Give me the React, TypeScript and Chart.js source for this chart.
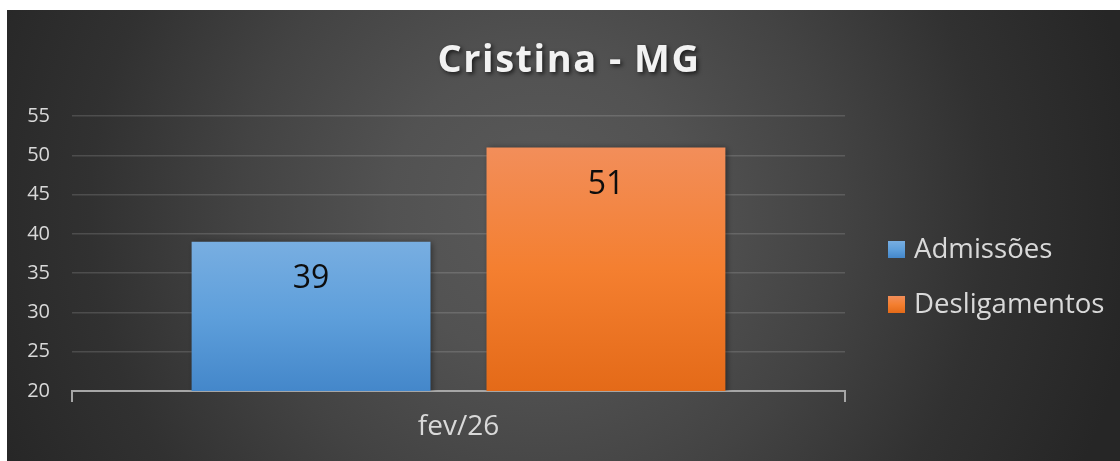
import React, { useEffect, useRef } from "react";
import { Chart, registerables } from "chart.js";

Chart.register(...registerables);

const W = 1120;
const H = 461;
const FONT = "'Open Sans', 'Noto Sans', sans-serif";

const TITLE = "Cristina - MG";
const categories = ["fev/26"];
const seriesNames = ["Admissões", "Desligamentos"];
const admissoes = [39];
const desligamentos = [51];
const yMin = 20;
const yMax = 55;
const yStep = 5;

const seriesTop = ["#78AEE1", "#F28E5A"];
const seriesMid = ["#5E9FDB", "#F47F30"];
const seriesBottom = ["#4487CA", "#E46A18"];

function addStops(g: CanvasGradient, i: number) {
  g.addColorStop(0, seriesTop[i]);
  g.addColorStop(0.5, seriesMid[i]);
  g.addColorStop(1, seriesBottom[i]);
  return g;
}

function barGradient(c: any, i: number) {
  const chart = c.chart;
  const area = chart.chartArea;
  if (!area || !chart.scales || !chart.scales.y) return seriesBottom[i];
  const v = c.raw as number;
  const top = chart.scales.y.getPixelForValue(v);
  const bottom = chart.scales.y.getPixelForValue(yMin);
  const g = chart.ctx.createLinearGradient(0, top, 0, bottom);
  return addStops(g, i);
}

const backgroundPlugin = {
  id: "bgPlugin",
  beforeDraw(chart: any) {
    const ctx = chart.ctx;
    ctx.save();
    ctx.fillStyle = "#ffffff";
    ctx.fillRect(0, 0, W, H);
    const g = ctx.createRadialGradient(540, 210, 0, 540, 210, 600);
    g.addColorStop(0, "#5a5a5a");
    g.addColorStop(0.25, "#525252");
    g.addColorStop(0.5, "#434343");
    g.addColorStop(0.75, "#313131");
    g.addColorStop(1, "#262626");
    ctx.fillStyle = g;
    ctx.fillRect(7, 10, W - 7, H - 10);
    ctx.restore();
  },
  beforeDatasetsDraw(chart: any) {
    const ctx = chart.ctx;
    ctx.save();
    ctx.shadowColor = "rgba(0,0,0,0.45)";
    ctx.shadowBlur = 6;
    ctx.shadowOffsetX = 2;
    ctx.shadowOffsetY = 1;
  },
  afterDatasetsDraw(chart: any) {
    const ctx = chart.ctx;
    ctx.restore();
    ctx.save();
    ctx.font = `32px ${FONT}`;
    ctx.fillStyle = "#0d0d0d";
    ctx.textAlign = "center";
    ctx.textBaseline = "middle";
    chart.data.datasets.forEach((ds: any, di: number) => {
      const meta = chart.getDatasetMeta(di);
      meta.data.forEach((bar: any, i: number) => {
        ctx.fillText(String(ds.data[i]), bar.x, bar.y + 37);
      });
    });
    ctx.restore();
  },
  afterDraw(chart: any) {
    const ctx = chart.ctx;
    ctx.save();
    ctx.font = `bold 38px ${FONT}`;
    (ctx as any).letterSpacing = "1.5px";
    ctx.textAlign = "center";
    ctx.textBaseline = "alphabetic";
    ctx.shadowColor = "rgba(0,0,0,0.65)";
    ctx.shadowBlur = 4;
    ctx.shadowOffsetX = 2;
    ctx.shadowOffsetY = 2;
    ctx.fillStyle = "#f2f2f2";
    ctx.fillText(TITLE, 569, 72);
    ctx.restore();

    ctx.save();
    chart.data.datasets.forEach((ds: any, di: number) => {
      const cy = 249.5 + di * 55;
      const g = ctx.createLinearGradient(0, cy - 8.5, 0, cy + 8.5);
      addStops(g, di);
      ctx.fillStyle = g;
      ctx.fillRect(888, cy - 8.5, 17, 17);
      ctx.font = `27.6px ${FONT}`;
      ctx.fillStyle = "#d9d9d9";
      ctx.textAlign = "left";
      ctx.textBaseline = "middle";
      ctx.fillText(ds.label, 914, cy + 1);
    });
    ctx.restore();
  },
};

export default function App() {
  const ref = useRef<HTMLCanvasElement | null>(null);

  useEffect(() => {
    if (!ref.current) return;
    const chart = new Chart(ref.current, {
      type: "bar",
      data: {
        labels: categories,
        datasets: [
          {
            label: seriesNames[0],
            data: admissoes,
            backgroundColor: (c: any) => barGradient(c, 0),
            borderWidth: 0,
          },
          {
            label: seriesNames[1],
            data: desligamentos,
            backgroundColor: (c: any) => barGradient(c, 1),
            borderWidth: 0,
          },
        ],
      },
      options: {
        responsive: false,
        animation: false,
        events: [],
        layout: { padding: { left: 0, top: 116, right: 275, bottom: 0 } },
        plugins: {
          legend: { display: false },
          title: { display: false },
          tooltip: { enabled: false },
        },
        datasets: {
          bar: { categoryPercentage: 0.763, barPercentage: 0.81 },
        },
        scales: {
          x: {
            afterFit: (s: any) => {
              s.height = 70;
            },
            grid: {
              display: true,
              drawOnChartArea: false,
              drawTicks: true,
              tickLength: 11,
              color: "#a6a6a6",
              lineWidth: 2,
              offset: true,
            },
            border: { display: true, color: "#a6a6a6", width: 2 },
            ticks: {
              color: "#d9d9d9",
              font: { family: FONT, size: 28 },
              padding: 8,
            },
          },
          y: {
            min: yMin,
            max: yMax,
            afterFit: (s: any) => {
              s.width = 72;
            },
            grid: {
              color: "rgba(255,255,255,0.14)",
              lineWidth: 1.5,
              drawTicks: false,
            },
            border: { display: false },
            ticks: {
              stepSize: yStep,
              color: "#d9d9d9",
              font: { family: FONT, size: 20 },
              padding: 22,
            },
          },
        },
      },
      plugins: [backgroundPlugin],
    } as any);
    return () => chart.destroy();
  }, []);

  return (
    <div style={{ position: "absolute", left: 0, top: 0, width: W, height: H }}>
      <canvas ref={ref} width={W} height={H} style={{ display: "block", width: W, height: H }} />
    </div>
  );
}
